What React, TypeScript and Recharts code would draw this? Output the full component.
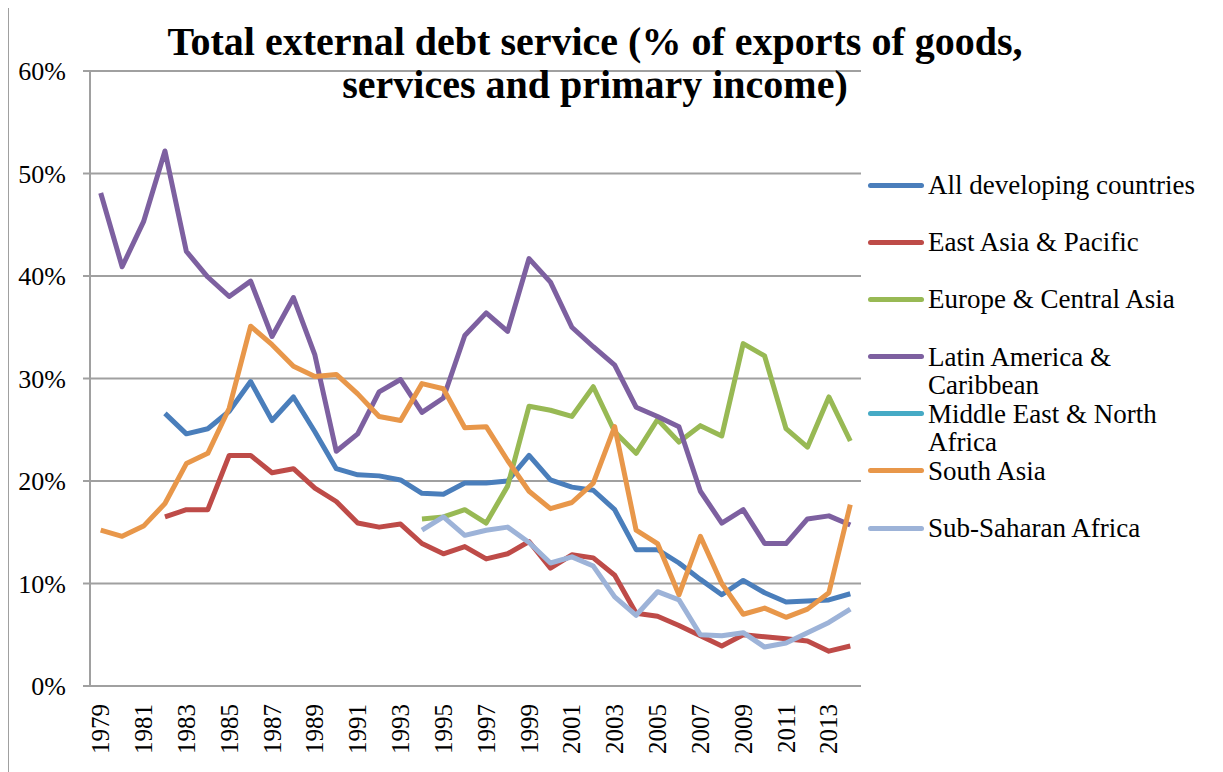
import React from 'react';
import { LineChart, Line, XAxis, YAxis, CartesianGrid } from 'recharts';

const years = [
  1979, 1980, 1981, 1982, 1983, 1984, 1985, 1986, 1987, 1988, 1989, 1990,
  1991, 1992, 1993, 1994, 1995, 1996, 1997, 1998, 1999, 2000,
  2001, 2002, 2003, 2004, 2005, 2006, 2007, 2008, 2009, 2010,
  2011, 2012, 2013, 2014,
];

const allDeveloping = [
  null, null, null, 26.6, 24.6, 25.1, 26.8, 29.7, 25.9, 28.2, 24.8, 21.2,
  20.6, 20.5, 20.1, 18.8, 18.7, 19.8, 19.8, 20.0, 22.5, 20.1,
  19.4, 19.1, 17.2, 13.3, 13.3, 12.0, 10.4, 8.9, 10.3, 9.1,
  8.2, 8.3, 8.4, 9.0,
];
const eastAsia = [
  null, null, null, 16.5, 17.2, 17.2, 22.5, 22.5, 20.8, 21.2, 19.3, 18.0,
  15.9, 15.5, 15.8, 13.9, 12.9, 13.6, 12.4, 12.9, 14.1, 11.5,
  12.8, 12.5, 10.8, 7.1, 6.8, 5.9, 4.9, 3.9, 5.0, 4.8,
  4.6, 4.4, 3.4, 3.9,
];
const europe = [
  null, null, null, null, null, null, null, null, null, null, null, null,
  null, null, null, 16.3, 16.5, 17.2, 15.9, 19.5, 27.3, 26.9,
  26.3, 29.2, 24.8, 22.7, 26.0, 23.8, 25.4, 24.4, 33.4, 32.2,
  25.1, 23.3, 28.2, 23.9,
];
const latinAmerica = [
  48.1, 40.9, 45.3, 52.2, 42.4, 39.9, 38.0, 39.5, 34.1, 37.9, 32.3, 22.9,
  24.6, 28.7, 29.9, 26.7, 28.1, 34.2, 36.4, 34.6, 41.7, 39.4,
  35.0, 33.1, 31.3, 27.2, 26.3, 25.3, 19.0, 15.9, 17.2, 13.9,
  13.9, 16.3, 16.6, 15.7,
];
const middleEast = years.map(() => null);
const southAsia = [
  15.2, 14.6, 15.6, 17.8, 21.7, 22.7, 27.1, 35.1, 33.3, 31.2, 30.2, 30.4,
  28.5, 26.3, 25.9, 29.5, 29.0, 25.2, 25.3, 22.0, 19.0, 17.3,
  17.9, 19.8, 25.3, 15.2, 13.9, 8.9, 14.6, 10.0, 7.0, 7.6,
  6.7, 7.5, 9.1, 17.7,
];
const subSaharan = [
  null, null, null, null, null, null, null, null, null, null, null, null,
  null, null, null, 15.2, 16.5, 14.7, 15.2, 15.5, 14.0, 12.0,
  12.6, 11.7, 8.7, 6.9, 9.2, 8.4, 5.0, 4.9, 5.2, 3.8,
  4.2, 5.2, 6.2, 7.5,
];

const yearLabels = [
  1979, 1981, 1983, 1985, 1987, 1989, 1991, 1993, 1995, 1997, 1999,
  2001, 2003, 2005, 2007, 2009, 2011, 2013,
];
const percentTicks = [0, 10, 20, 30, 40, 50, 60];

const series = [
  { key: 'dev', name: 'All developing countries', color: '#4a7ebb', values: allDeveloping },
  { key: 'eap', name: 'East Asia & Pacific', color: '#be4b48', values: eastAsia },
  { key: 'eca', name: 'Europe & Central Asia', color: '#98b954', values: europe },
  { key: 'lac', name: 'Latin America & Caribbean', color: '#7d60a0', values: latinAmerica },
  { key: 'mena', name: 'Middle East & North Africa', color: '#46aac5', values: middleEast },
  { key: 'sa', name: 'South Asia', color: '#e8974a', values: southAsia },
  { key: 'ssa', name: 'Sub-Saharan Africa', color: '#9db3d8', values: subSaharan },
];

const rows = years.map((year, i) => {
  const row: Record<string, number | null> = { year };
  series.forEach((s) => {
    row[s.key] = s.values[i];
  });
  return row;
});

// tick marks sit between the categories, like the original spreadsheet chart
const boundaries = [...years.map((y) => y - 0.5), years[years.length - 1] + 0.5];

const FONT = '"Liberation Serif", serif';
const GRAY = '#a0a0a0';

const YearTick = (props: any) => {
  const { x, y, payload } = props;
  return (
    <text
      x={x}
      y={y + 10}
      transform={`rotate(-90, ${x}, ${y + 10})`}
      textAnchor="end"
      dominantBaseline="central"
      fontFamily={FONT}
      fontSize={25}
      fill="#000"
    >
      {payload.value}
    </text>
  );
};

export default function App() {
  return (
    <div style={{ position: 'relative', width: 1215, height: 764, fontFamily: FONT }}>
      <div style={{ position: 'absolute', left: -1, top: 0, width: 2, height: 764, background: GRAY }} />
      <div style={{ position: 'absolute', left: 1210, top: 0, width: 2, height: 764, background: GRAY }} />
      <LineChart
        width={1215}
        height={764}
        data={rows}
        margin={{ top: 63, right: 362, bottom: 0, left: 0 }}
      >
        <CartesianGrid vertical={false} stroke={GRAY} strokeWidth={2} />
        <XAxis
          xAxisId="marks"
          dataKey="year"
          type="number"
          domain={[1978.5, 2014.5]}
          ticks={boundaries}
          tick={false}
          height={0}
          tickSize={8}
          stroke={GRAY}
          strokeWidth={2}
        />
        <XAxis
          dataKey="year"
          type="number"
          domain={[1978.5, 2014.5]}
          ticks={yearLabels}
          tick={<YearTick />}
          tickLine={false}
          axisLine={false}
          height={86}
          interval={0}
        />
        <YAxis
          domain={[0, 60]}
          ticks={percentTicks}
          tickFormatter={(v) => `${v}%`}
          width={82}
          tickSize={7}
          tickMargin={17}
          stroke={GRAY}
          strokeWidth={2}
          tick={{ fill: '#000', fontSize: 26, fontFamily: FONT }}
        />
        {series.map((s) => (
          <Line
            key={s.key}
            dataKey={s.key}
            name={s.name}
            stroke={s.color}
            strokeWidth={5}
            strokeLinejoin="round"
            dot={false}
            type="linear"
            isAnimationActive={false}
          />
        ))}
      </LineChart>
      <div
        style={{
          position: 'absolute',
          left: 87,
          top: 12,
          width: 1000,
          textAlign: 'center',
          fontWeight: 'bold',
          fontSize: 40,
          lineHeight: '43px',
        }}
      >
        Total external debt service (% of exports of goods,
        <br />
        services and primary income)
      </div>
      <div style={{ position: 'absolute', left: 860, top: 163 }}>
        {series.map((s) => (
          <div key={s.key} style={{ position: 'relative', height: 57.2, width: 340 }}>
            <div
              style={{
                position: 'absolute',
                left: 0,
                top: 11.5,
                width: 56,
                height: 5,
                borderRadius: 3,
                background: s.color,
              }}
            />
            <div
              style={{
                position: 'absolute',
                left: 60,
                top: 0,
                width: 280,
                fontSize: 27,
                lineHeight: '28px',
                color: '#000',
              }}
            >
              {s.name}
            </div>
          </div>
        ))}
      </div>
    </div>
  );
}
